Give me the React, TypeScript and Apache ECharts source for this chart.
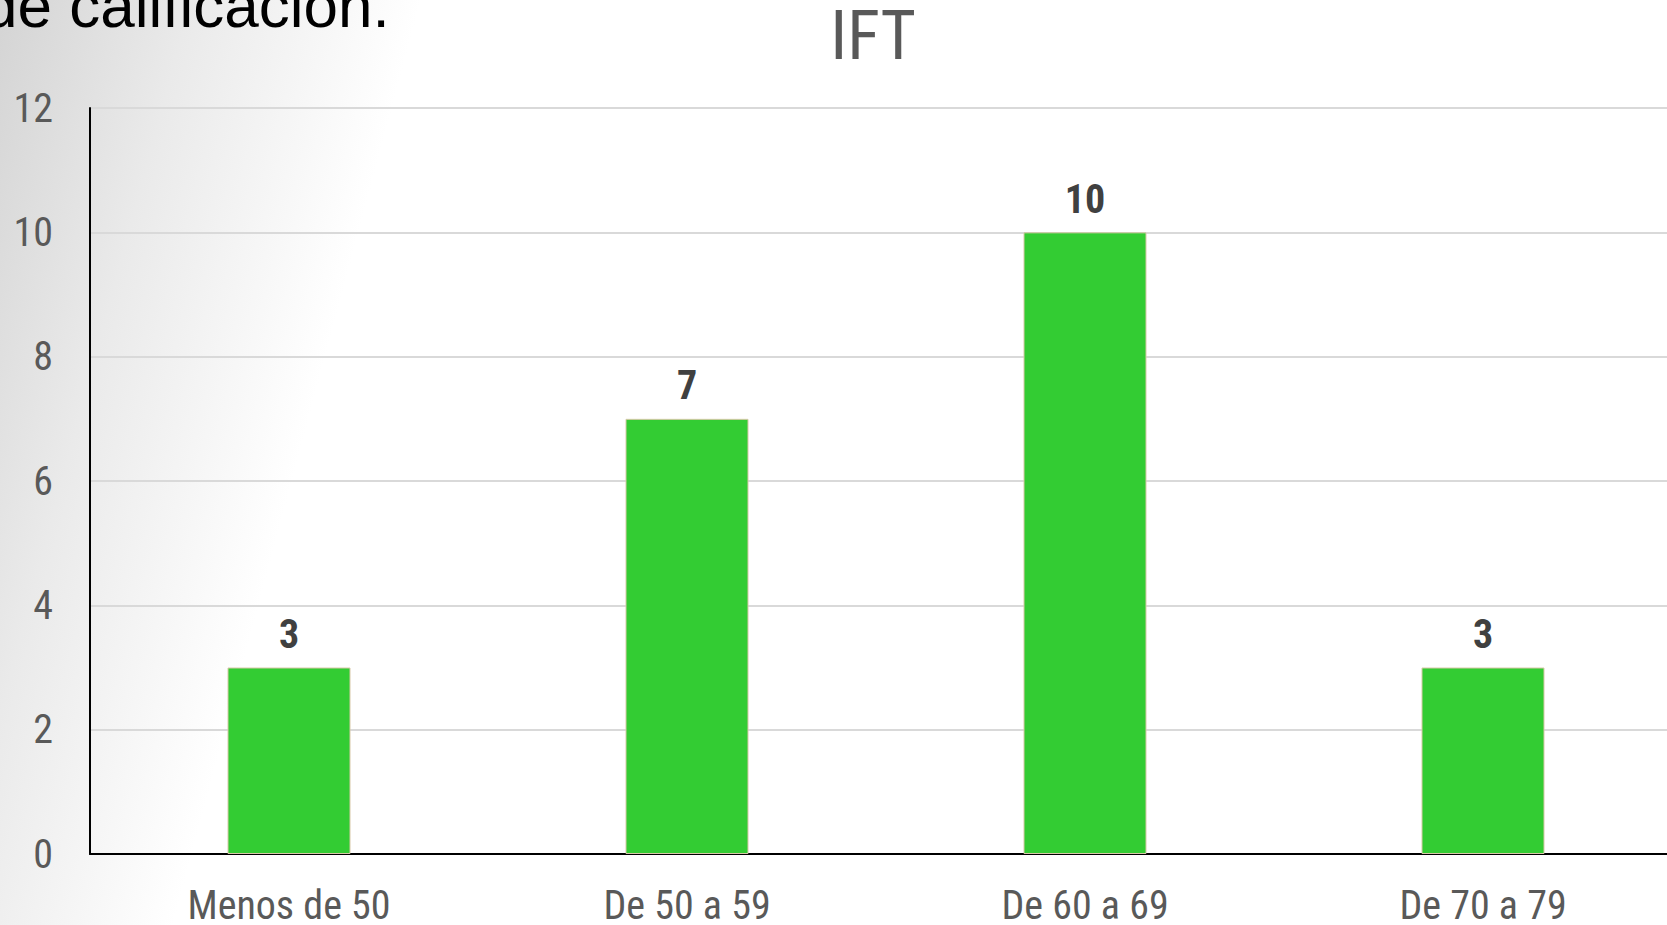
import React, { useEffect, useRef } from "react";
import * as echarts from "echarts";

const categories = ["Menos de 50", "De 50 a 59", "De 60 a 69", "De 70 a 79"];
const values = [3, 7, 10, 3];
const yTicks = { min: 0, max: 12, interval: 2 };
const titleText = "IFT";
const headerText = "de calificación.";

const FONT = "'Liberation Sans Narrow', 'Arial Narrow', 'Roboto Condensed', 'DejaVu Sans Condensed', sans-serif";

export default function App() {
  const ref = useRef<HTMLDivElement>(null);
  useEffect(() => {
    document.body.style.margin = "0";
    const chart = echarts.init(ref.current!, null, { renderer: "svg" });
    chart.setOption({
      animation: false,
      backgroundColor: "transparent",
      textStyle: { fontFamily: FONT },
      grid: { left: 90, top: 108, width: 1592, height: 746, containLabel: false },
      xAxis: {
        type: "category",
        data: categories,
        axisLine: { show: true, lineStyle: { color: "#000000", width: 2 } },
        axisTick: { show: false },
        axisLabel: { color: "#595959", fontSize: 40, fontFamily: FONT, margin: 31 },
      },
      yAxis: {
        type: "value",
        min: yTicks.min,
        max: yTicks.max,
        interval: yTicks.interval,
        axisLine: { show: true, lineStyle: { color: "#000000", width: 2 } },
        axisTick: { show: false },
        axisLabel: { color: "#595959", fontSize: 40, fontFamily: FONT, margin: 37 },
        splitLine: { show: true, lineStyle: { color: "#d9d9d9", width: 2 } },
      },
      series: [
        {
          type: "bar",
          data: values,
          barWidth: 123,
          itemStyle: { color: "#33cc33", borderColor: "#d8c8a8", borderWidth: 1 },
          label: {
            show: true,
            position: "top",
            distance: 13,
            color: "#404040",
            fontWeight: "bold",
            fontSize: 40,
            fontFamily: FONT,
          },
        },
      ],
      graphic: [
        {
          type: "text",
          x: 873,
          y: 2,
          style: {
            text: titleText,
            fill: "#595959",
            fontSize: 68,
            fontFamily: FONT,
            align: "center",
            verticalAlign: "top",
          },
        },
        {
          type: "text",
          x: -17,
          y: -26,
          style: {
            text: headerText,
            fill: "#000000",
            fontSize: 62,
            fontFamily: "'Liberation Sans', Arial, sans-serif",
          },
        },
      ],
    });
    return () => chart.dispose();
  }, []);
  return (
    <div
      style={{
        position: "fixed",
        left: 0,
        top: 0,
        width: 1667,
        height: 925,
        overflow: "hidden",
        background: "linear-gradient(105deg, #d4d4d4 0%, #eaeaea 10%, #ffffff 22%, #ffffff 100%)",
      }}
    >
      <div ref={ref} style={{ width: 1720, height: 925 }} />
    </div>
  );
}
